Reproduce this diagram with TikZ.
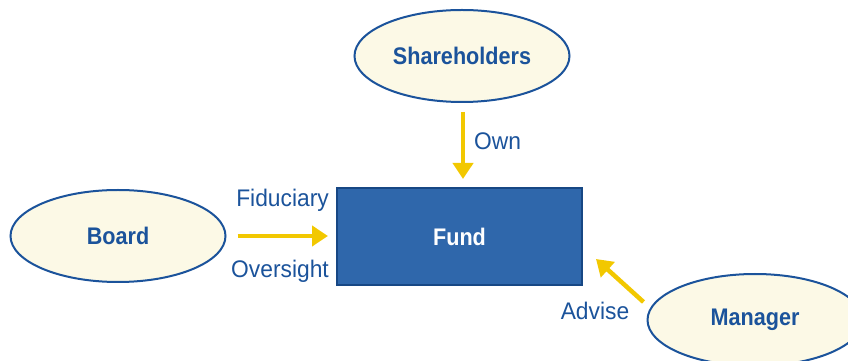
\documentclass[tikz,border=0pt]{standalone}
\usepackage{fontspec}
\setmainfont[FakeStretch=0.9]{Liberation Sans}
\newfontfamily\labelfont[FakeStretch=0.95]{Liberation Sans}
\usetikzlibrary{shapes.geometric,arrows.meta}
\definecolor{darkblue}{HTML}{1B539B}
\definecolor{fundblue}{HTML}{2F67AB}
\definecolor{cream}{HTML}{FCF9E6}
\definecolor{gold}{HTML}{F2C800}
\tikzset{
    party/.style={ellipse, draw=darkblue, line width=2pt, fill=cream, inner sep=0pt,
        minimum width=215pt, minimum height=92pt, text=darkblue, font=\fontsize{24}{28}\selectfont\bfseries},
    flow/.style={draw=gold, line width=4.5pt, -{Triangle[width=20pt,length=16pt]}},
    role/.style={text=darkblue, font=\labelfont\fontsize{24}{28}\selectfont, inner sep=0pt}
}
\begin{document}
\begin{tikzpicture}[x=1pt,y=1pt]
    \useasboundingbox (0,0) rectangle (848,361);

    \node[draw=darkblue!85!black, line width=2pt, fill=fundblue, minimum width=245pt, minimum height=97pt,
        text=white, font=\fontsize{24}{28}\selectfont\bfseries] (fund) at (459.5,124.5) {Fund};

    \node[party] (share) at (462,305) {Shareholders};
    \node[party] (board) at (118,125) {Board};
    \node[party] (mgr) at (755,41) {Manager};

    % arrows into the fund
    \draw[flow] ([xshift=1pt,yshift=-9pt]share.south) -- ([xshift=3.5pt,yshift=8pt]fund.north);
    \draw[flow] ([xshift=11pt]board.east) -- ([xshift=-8pt]fund.west |- board.east);
    \draw[flow] ([shift={(-3pt,18pt)}]mgr.west) -- ([shift={(13pt,27pt)}]fund.south east);

    \node[role, anchor=west] (own) at (474,220) {Own};
    \node[role, anchor=east] (fid) at (329,161) {Fiduciary};
    \node[role, anchor=east] (over) at (329,90) {Oversight};
    \node[role] (adv) at (595,50) {Advise};
\end{tikzpicture}
\end{document}
